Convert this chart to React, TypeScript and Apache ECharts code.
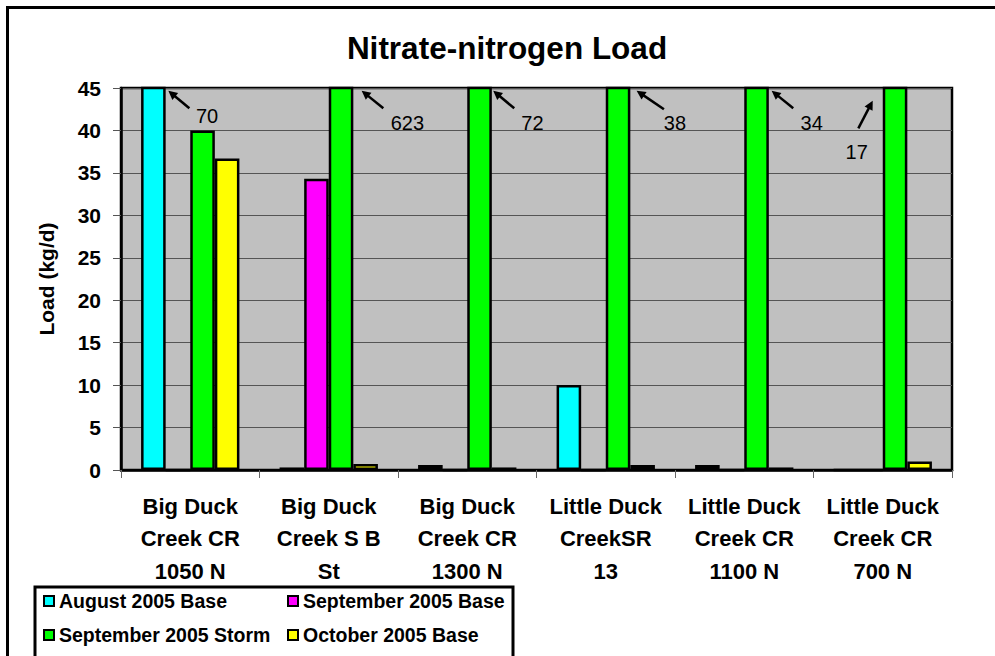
import React, { useEffect, useRef } from "react";
import * as echarts from "echarts";

const CATEGORIES = [
  "Big Duck\nCreek CR\n1050 N",
  "Big Duck\nCreek S B\nSt",
  "Big Duck\nCreek CR\n1300 N",
  "Little Duck\nCreekSR\n13",
  "Little Duck\nCreek CR\n1100 N",
  "Little Duck\nCreek CR\n700 N",
];
const SERIES_NAMES = [
  "August 2005 Base",
  "September 2005 Base",
  "September 2005 Storm",
  "October 2005 Base",
];
const AUG_BASE = [70, 0.3, 0.6, 10, 0.6, 0];
const SEP_BASE = [0, 34.3, 0, 0, 0, 0];
const SEP_STORM = [40, 623, 72, 38, 34, 17];
const OCT_BASE = [36.7, 0.7, 0.3, 0.6, 0.3, 1.0];
const SERIES_DATA = [AUG_BASE, SEP_BASE, SEP_STORM, OCT_BASE];
const SERIES_COLORS = ["#00FFFF", "#FF00FF", "#00FF00", "#FFFF00"];

const Y_MIN = 0;
const Y_MAX = 45;
const Y_STEP = 5;
const TITLE = "Nitrate-nitrogen Load";
const Y_NAME = "Load (kg/d)";

// bars drawn off the top of the scale, each with a call-out giving its value
// (category index, series index)
const OFF_SCALE_BARS = [
  [0, 0],
  [1, 2],
  [2, 2],
  [3, 2],
  [4, 2],
  [5, 2],
];
// call-out geometry relative to bar right edge / plot top (layout only)
const CALLOUT_LAYOUT = [
  { tip: [2.7, 2.7], tail: [23.7, 20.3], text: [41.4, 27.5] },
  { tip: [8.3, 2.7], tail: [30, 20.3], text: [54, 35] },
  { tip: [1.4, 2.7], tail: [22.4, 20.3], text: [40.6, 35] },
  { tip: [6.3, 2.7], tail: [33.6, 21.3], text: [44.6, 35] },
  { tip: [2.8, 2.7], tail: [24.4, 20.3], text: [42.8, 35] },
  { tip: [-34.6, 12.7], tail: [-49, 40.3], text: [-50.6, 63.7] },
];

const FONT = "'Liberation Sans', Arial, Helvetica, sans-serif";
const CAT_GAP = 0.29;

function isOffScale(cat: number, s: number) {
  return OFF_SCALE_BARS.some(([c, k]) => c === cat && k === s);
}

export default function App() {
  const ref = useRef<HTMLDivElement>(null);

  useEffect(() => {
    if (!ref.current) return;
    const chart = echarts.init(ref.current, null, { renderer: "svg" });

    const series = SERIES_NAMES.map((name, i) => ({
      name,
      type: "bar",
      // off-scale bars run past the top of the axis (clipped by the grid)
      data: SERIES_DATA[i].map((v, c) =>
        isOffScale(c, i) ? Math.max(v, Y_MAX * 2) : v
      ),
      barGap: "0%",
      barCategoryGap: `${CAT_GAP * 100}%`,
      clip: true,
      itemStyle: {
        color: SERIES_COLORS[i],
        borderColor: "#000",
        borderWidth: 2.5,
      },
    }));

    const legendCommon = {
      orient: "vertical",
      top: 591,
      padding: 0,
      itemWidth: 10,
      itemHeight: 10,
      itemGap: 14,
      icon: "rect",
      itemStyle: { borderColor: "#000", borderWidth: 2 },
      textStyle: {
        fontFamily: FONT,
        fontSize: 19.5,
        fontWeight: "bold",
        color: "#000",
        lineHeight: 20,
      },
      selectedMode: false,
    };

    chart.setOption({
      animation: false,
      backgroundColor: "#fff",
      title: {
        text: TITLE,
        left: 507,
        top: 32,
        padding: 0,
        textAlign: "center",
        textStyle: {
          fontFamily: FONT,
          fontSize: 31.5,
          fontWeight: "bold",
          color: "#000",
        },
      },
      legend: [
        { ...legendCommon, left: 43, data: [SERIES_NAMES[0], SERIES_NAMES[2]] },
        { ...legendCommon, left: 287, data: [SERIES_NAMES[1], SERIES_NAMES[3]] },
      ],
      grid: {
        left: 121,
        right: 43,
        top: 88,
        bottom: 186,
        show: true,
        backgroundColor: "#C0C0C0",
        borderColor: "#000",
        borderWidth: 2.5,
      },
      xAxis: {
        type: "category",
        data: CATEGORIES,
        axisLine: { show: true, lineStyle: { color: "#000", width: 2.5 } },
        axisTick: {
          show: true,
          length: 8,
          lineStyle: { color: "#666", width: 1 },
        },
        axisLabel: {
          interval: 0,
          margin: 20,
          fontFamily: FONT,
          fontSize: 22,
          fontWeight: "bold",
          color: "#000",
          lineHeight: 32.5,
        },
      },
      yAxis: {
        type: "value",
        min: Y_MIN,
        max: Y_MAX,
        interval: Y_STEP,
        name: Y_NAME,
        nameLocation: "middle",
        nameGap: 64,
        nameRotate: 90,
        nameTextStyle: {
          fontFamily: FONT,
          fontSize: 21,
          fontWeight: "bold",
          color: "#000",
        },
        axisLine: { show: true, lineStyle: { color: "#000", width: 2.5 } },
        axisTick: {
          show: true,
          length: 8,
          lineStyle: { color: "#555", width: 1 },
        },
        axisLabel: {
          margin: 20,
          fontFamily: FONT,
          fontSize: 21,
          fontWeight: "bold",
          color: "#000",
        },
        splitLine: { show: true, lineStyle: { color: "#555", width: 1 } },
      },
      series,
    });

    // call-outs for off-scale bars, positioned through the axes
    const c0 = chart.convertToPixel({ gridIndex: 0 }, [0, Y_MAX]) as number[];
    const c1 = chart.convertToPixel({ gridIndex: 0 }, [1, Y_MAX]) as number[];
    const band = c1[0] - c0[0];
    const barW = (band * (1 - CAT_GAP)) / SERIES_NAMES.length;

    const graphics: any[] = [
      {
        type: "rect",
        shape: { x: 7.5, y: 7.5, width: 1200, height: 1000 },
        style: { fill: null, stroke: "#000", lineWidth: 3 },
        z: 100,
        silent: true,
      },
      {
        type: "rect",
        shape: { x: 35, y: 587, width: 478, height: 120 },
        style: { fill: null, stroke: "#000", lineWidth: 3 },
        z: 100,
        silent: true,
      },
    ];

    OFF_SCALE_BARS.forEach(([cat, s], k) => {
      const lay = CALLOUT_LAYOUT[k];
      const p = chart.convertToPixel({ gridIndex: 0 }, [cat, Y_MAX]) as number[];
      const edge = p[0] - (SERIES_NAMES.length / 2) * barW + (s + 1) * barW;
      const top = p[1];
      const tip = [edge + lay.tip[0], top + lay.tip[1]];
      const tail = [edge + lay.tail[0], top + lay.tail[1]];
      const dx = tip[0] - tail[0];
      const dy = tip[1] - tail[1];
      const len = Math.sqrt(dx * dx + dy * dy);
      const ux = dx / len;
      const uy = dy / len;
      const hl = 9;
      const hw = 4.5;
      const bx = tip[0] - ux * hl;
      const by = tip[1] - uy * hl;
      graphics.push({
        type: "line",
        shape: { x1: tail[0], y1: tail[1], x2: bx + ux * 2, y2: by + uy * 2 },
        style: { stroke: "#000", lineWidth: 2.5 },
        z: 101,
        silent: true,
      });
      graphics.push({
        type: "polygon",
        shape: {
          points: [
            [tip[0], tip[1]],
            [bx - uy * hw, by + ux * hw],
            [bx + uy * hw, by - ux * hw],
          ],
        },
        style: { fill: "#000" },
        z: 101,
        silent: true,
      });
      graphics.push({
        type: "text",
        x: edge + lay.text[0],
        y: top + lay.text[1],
        style: {
          text: String(SERIES_DATA[s][cat]),
          fontFamily: FONT,
          fontSize: 20,
          fill: "#000",
          align: "center",
          verticalAlign: "middle",
        },
        z: 101,
        silent: true,
      });
    });

    chart.setOption({ graphic: graphics });

    return () => chart.dispose();
  }, []);

  return (
    <div
      ref={ref}
      style={{ position: "absolute", left: 0, top: 0, width: 995, height: 656 }}
    />
  );
}
